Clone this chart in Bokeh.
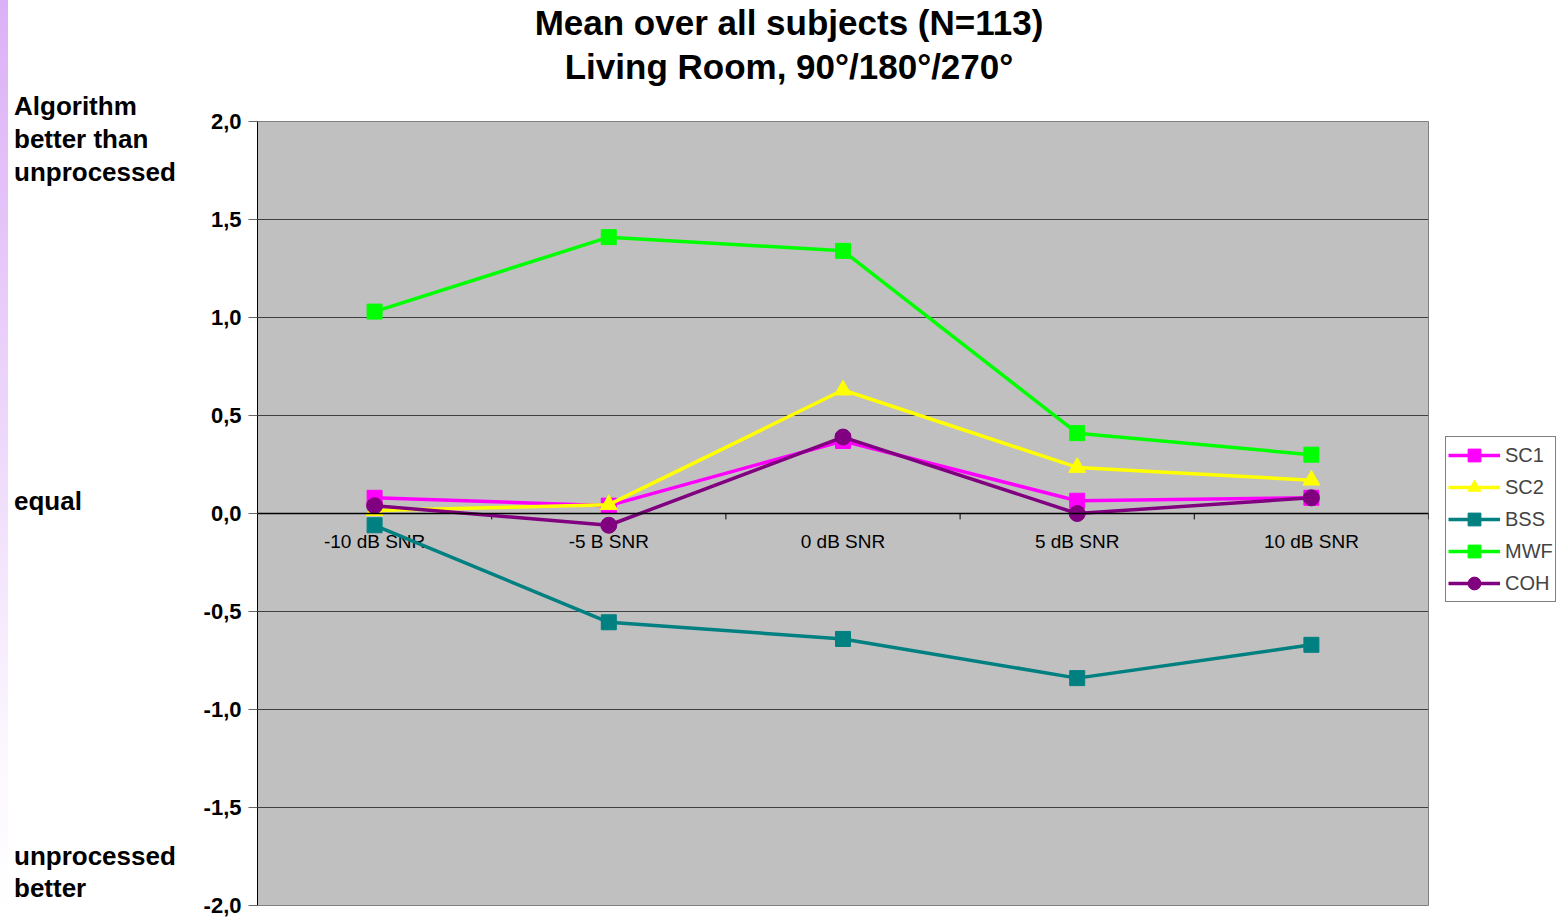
from bokeh.plotting import figure
from bokeh.models import (Range1d, FixedTicker, Span, Legend, LegendItem, Div)
from bokeh.layouts import row, column
from bokeh.core.properties import value
from bokeh.embed import file_html
from bokeh.resources import INLINE

# ---------------- data ----------------
categories = ["-10 dB SNR", "-5 B SNR", "0 dB SNR", "5 dB SNR", "10 dB SNR"]
sc1 = [0.08, 0.04, 0.37, 0.065, 0.08]
sc2 = [0.015, 0.045, 0.63, 0.235, 0.17]
bss = [-0.06, -0.555, -0.64, -0.84, -0.67]
mwf = [1.03, 1.41, 1.34, 0.41, 0.30]
coh = [0.04, -0.06, 0.39, 0.0, 0.08]
series_names = ["SC1", "SC2", "BSS", "MWF", "COH"]
y_ticks = [-2.0, -1.5, -1.0, -0.5, 0.0, 0.5, 1.0, 1.5, 2.0]
y_tick_labels = ["-2,0", "-1,5", "-1,0", "-0,5", "0,0", "0,5", "1,0", "1,5", "2,0"]
title_lines = ["Mean over all subjects (N=113)", "Living Room, 90°/180°/270°"]
top_note = ["Algorithm", "better than", "unprocessed"]
mid_note = ["equal"]
bottom_note = ["unprocessed", "better"]

FONT = "Liberation Sans"
xs = list(range(len(categories)))

NOTE_W = 200
TOP_BORDER = 12
TITLE_H = 121 - TOP_BORDER
p = figure(frame_width=1171, frame_height=784,
           min_border_left=257 - NOTE_W, min_border_right=128,
           min_border_top=TOP_BORDER, min_border_bottom=12,
           x_range=Range1d(-0.5, len(categories) - 0.5),
           y_range=Range1d(-2.0, 2.0),
           x_axis_location=None,
           output_backend="svg", toolbar_location=None)

p.background_fill_color = "#c0c0c0"
p.border_fill_color = "white"
p.outline_line_color = "#808080"
p.outline_line_width = 1
p.xgrid.visible = False

# y axis
yax = p.yaxis[0]
yax.ticker = FixedTicker(ticks=y_ticks)
yax.major_label_overrides = {t: l for t, l in zip(y_ticks, y_tick_labels)}
yax.major_label_text_font = FONT
yax.major_label_text_font_style = "bold"
yax.major_label_text_font_size = "22px"
yax.major_label_text_color = "black"
yax.major_label_standoff = 7
yax.axis_line_color = "black"
yax.axis_line_width = 1
yax.major_tick_in = 0
yax.major_tick_out = 9
yax.major_tick_line_color = "#666666"
yax.minor_tick_line_color = None

p.ygrid.ticker = FixedTicker(ticks=y_ticks)
p.ygrid.grid_line_color = "#404040"
p.ygrid.grid_line_width = 1

# zero line (category axis)
p.add_layout(Span(location=0, dimension="width", line_color="black", line_width=1.3))
bounds = [i + 0.5 for i in xs]
p.segment(x0=bounds, x1=bounds, y0=[0] * len(bounds), y1=[-0.03] * len(bounds),
          line_color="black", line_width=1)
p.text(x=xs, y=[0] * len(xs), text=categories, y_offset=28,
       text_align="center", text_baseline="middle",
       text_font=value(FONT), text_font_size="19px", text_color="black")

# series
colors = ["#ff00ff", "#ffff00", "#008080", "#00ff00", "#800080"]
markers = ["square", "triangle", "square", "square", "circle"]
sizes = [15, 17, 15, 15, 16]
items = []
for name, vals, c, m, s in zip(series_names, [sc1, sc2, bss, mwf, coh], colors, markers, sizes):
    r1 = p.line(xs, vals, line_color=c, line_width=3.5)
    r2 = p.scatter(xs, vals, marker=m, size=s, fill_color=c, line_color=c)
    items.append(LegendItem(label=name, renderers=[r1, r2]))

legend = Legend(items=items, location=(17, 303), margin=0,
                padding=2, spacing=0, glyph_width=52, glyph_height=32,
                label_standoff=5, label_text_font=FONT,
                label_text_font_size="20px", label_height=20,
                border_line_color="black", border_line_width=1,
                background_fill_color="white", background_fill_alpha=1)
p.add_layout(legend, "right")

FIG_W = (257 - NOTE_W) + 1171 + 128

# title block above the plot
title_html = (
    '<div style="position:relative;width:%dpx;height:%dpx;">'
    '<div style="position:absolute;left:0;top:1px;width:%dpx;text-align:center;'
    'font-family:\'Liberation Sans\';font-weight:bold;font-size:35px;line-height:44px;'
    'color:black;white-space:nowrap;">%s<br>%s</div></div>'
) % (FIG_W, TITLE_H, 2 * (789 - NOTE_W), title_lines[0], title_lines[1])
title_div = Div(text=title_html, width=FIG_W, height=TITLE_H, margin=0)

# side notes (left margin text) + purple slide strip
def lines_html(lines):
    return "<br>".join(lines)

NOTE_STYLE = ("position:absolute;left:14px;font-family:'Liberation Sans';"
              "font-weight:bold;font-size:26px;color:black;white-space:nowrap;")
notes_html = (
    '<div style="position:relative;width:%dpx;height:917px;">'
    '<div style="position:absolute;left:0;top:0;width:8px;height:917px;'
    'background:linear-gradient(to bottom,#dcb0f6 0%%,#ecd6fa 45%%,#fbf6fe 80%%,#ffffff 100%%);"></div>'
    '<div style="%stop:90px;line-height:33px;">%s</div>'
    '<div style="%stop:485px;line-height:33px;">%s</div>'
    '<div style="%stop:840px;line-height:32px;">%s</div>'
    '</div>'
) % (NOTE_W, NOTE_STYLE, lines_html(top_note), NOTE_STYLE, lines_html(mid_note),
     NOTE_STYLE, lines_html(bottom_note))

notes = Div(text=notes_html, width=NOTE_W, height=917, margin=0)

layout = row(notes, column(title_div, p, spacing=0), spacing=0)
open("out.html", "w").write(file_html(layout, INLINE))
